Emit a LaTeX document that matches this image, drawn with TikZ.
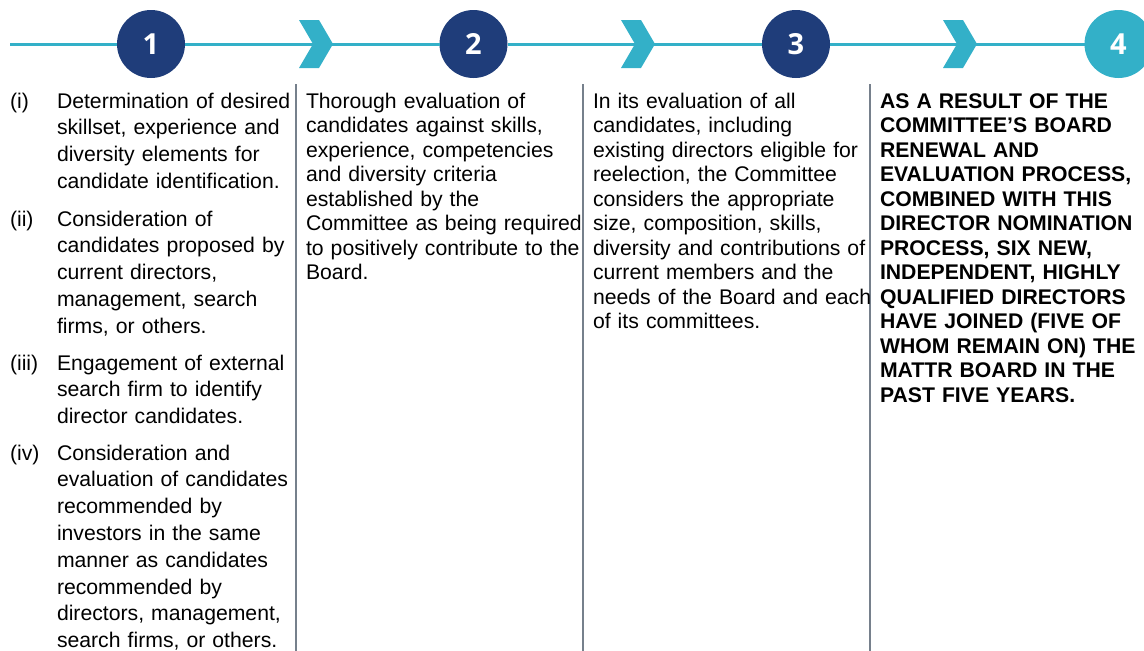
\documentclass[tikz,border=0pt]{standalone}
\usepackage{fontspec}
\setmainfont{Liberation Sans}
\newfontfamily\stepfont{Open Sans}
\usepackage{tikz}

\definecolor{custcol_navy}{RGB}{31, 61, 122}
\definecolor{custcol_teal}{RGB}{51, 176, 200}
\definecolor{custcol_rule}{RGB}{118, 128, 140}
\definecolor{custcol_text}{RGB}{0, 0, 0}

\tikzset{
  stepdot/.style={circle, minimum size=68pt, inner sep=0, outer sep=0, text=white,
    font=\stepfont\bfseries\fontsize{29pt}{29pt}\selectfont},
  rail/.style={line width=3.0pt, custcol_teal, line cap=butt},
  divider/.style={line width=2.0pt, custcol_rule},
  chevron/.style={fill=custcol_teal, draw=none},
  bodytext/.style={inner sep=0, outer sep=0, anchor=base west, align=left, text width=300pt,
    text=custcol_text, font=\fontsize{21.2pt}{24.5pt}\selectfont},
  itemtext/.style={bodytext, font=\fontsize{21.2pt}{26.8pt}\selectfont},
  boldtext/.style={bodytext, font=\fontsize{21.2pt}{24.5pt}\selectfont\bfseries},
}

\begin{document}
\begin{tikzpicture}[x=1pt,y=-1pt,line cap=rect]
  \useasboundingbox (0,0) rectangle (1144,651);

  % steps along the rail
  \node[stepdot, fill=custcol_navy] (s1) at (151,44) {1};
  \node[stepdot, fill=custcol_navy] (s2) at (473.5,44) {2};
  \node[stepdot, fill=custcol_navy] (s3) at (796,44) {3};
  \node[stepdot, fill=custcol_teal] (s4) at (1118.5,44) {4};
  \coordinate (railstart) at (10,44);
  \draw[rail] (railstart) -- (s1);
  \foreach \a/\b in {s1/s2,s2/s3,s3/s4}
    \draw[rail] (\a) -- (\b);

  % chevrons between the steps
  \foreach \x in {299,621,943}
    \fill[chevron] (\x,20) -- ++(20,0) -- ++(14,24) -- ++(-14,24) -- ++(-20,0) -- ++(14,-24) -- cycle;

  % column dividers
  \foreach \x in {296,583,870}
    \draw[divider] (\x,85) -- (\x,651);

  % column 1
  \node[itemtext] (n1) at (10,108) {(i)};
  \node[itemtext] (t1) at (57,108) {Determination of desired\\skillset, experience and\\diversity elements for\\candidate identification.};
  \node[itemtext] (n2) at (10,226) {(ii)};
  \node[itemtext] (t2) at (57,226) {Consideration of\\candidates proposed by\\current directors,\\management, search\\firms, or others.};
  \node[itemtext] (n3) at (10,370) {(iii)};
  \node[itemtext] (t3) at (57,370) {Engagement of external\\search firm to identify\\director candidates.};
  \node[itemtext] (n4) at (10,460) {(iv)};
  \node[itemtext] (t4) at (57,460) {Consideration and\\evaluation of candidates\\recommended by\\investors in the same\\manner as candidates\\recommended by\\directors, management,\\search firms, or others.};

  % column 2
  \node[bodytext] (t5) at (306,108) {Thorough evaluation of\\candidates against skills,\\experience, competencies\\and diversity criteria\\established by the\\Committee as being required\\to positively contribute to the\\Board.};

  % column 3
  \node[bodytext] (t6) at (593,108) {In its evaluation of all\\candidates, including\\existing directors eligible for\\reelection, the Committee\\considers the appropriate\\size, composition, skills,\\diversity and contributions of\\current members and the\\needs of the Board and each\\of its committees.};

  % column 4
  \node[boldtext] (t7) at (880,108) {AS A RESULT OF THE\\COMMITTEE’S BOARD\\RENEWAL AND\\EVALUATION PROCESS,\\COMBINED WITH THIS\\DIRECTOR NOMINATION\\PROCESS, SIX NEW,\\INDEPENDENT, HIGHLY\\QUALIFIED DIRECTORS\\HAVE JOINED (FIVE OF\\WHOM REMAIN ON) THE\\MATTR BOARD IN THE\\PAST FIVE YEARS.};
\end{tikzpicture}
\end{document}
